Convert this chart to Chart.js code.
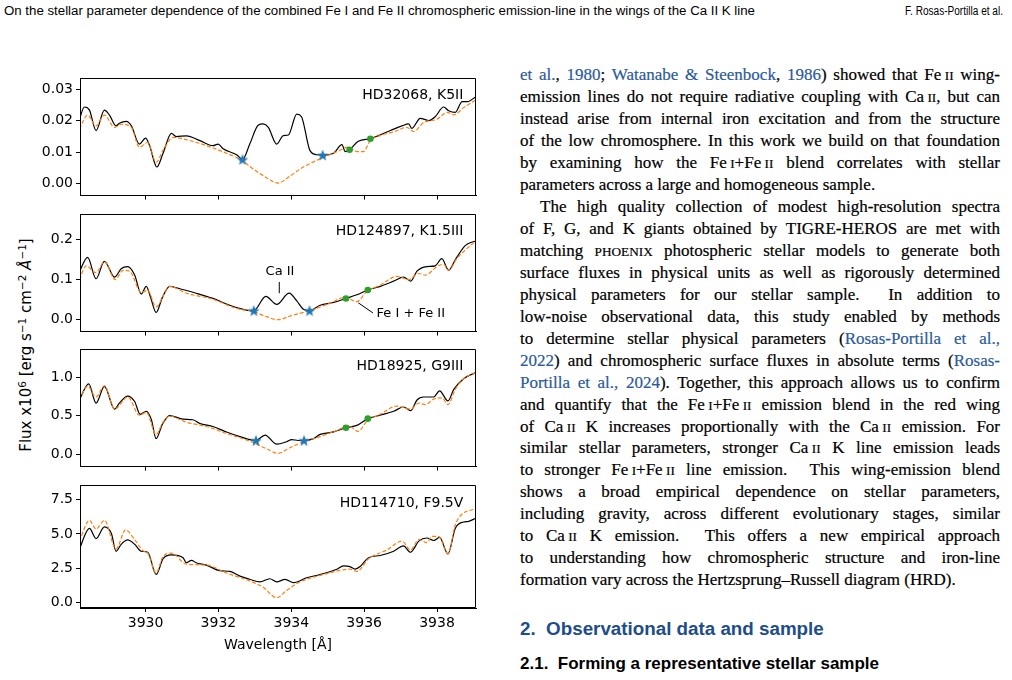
<!DOCTYPE html>
<html><head><meta charset="utf-8">
<script src="https://cdn.jsdelivr.net/npm/chart.js@4.4.1/dist/chart.umd.min.js"></script>
<style>
html,body{margin:0;padding:0;background:#fff;}
body{width:1012px;height:680px;position:relative;overflow:hidden;color:#000;}
canvas.cv{position:absolute;left:0;}
#hdr{position:absolute;left:4px;top:4px;font:12px "Liberation Sans",Arial,sans-serif;white-space:nowrap;transform-origin:0 0;}
#hdr2{position:absolute;left:905px;top:4px;font:12px "Liberation Sans",Arial,sans-serif;white-space:nowrap;transform-origin:0 0;}
#col{position:absolute;left:520px;top:64px;width:480px;font-family:"Liberation Serif",serif;font-size:17px;line-height:21.97px;-webkit-text-stroke:0.2px #000;}
#col div{white-space:nowrap;text-align:justify;text-align-last:justify;height:21.97px;}
#col div.e{text-align-last:left;}
#col div.i{text-indent:20px;}
.sc{font-size:0.78em;line-height:0;}
.lk{color:#2b5a9b;-webkit-text-stroke:0.2px #2b5a9b;}
#h2{position:absolute;left:520px;top:618px;font:bold 18.8px "Liberation Sans",Arial,sans-serif;color:#1d4d8a;white-space:nowrap;}
#h3{position:absolute;left:520px;top:654px;font:bold 17px "Liberation Sans",Arial,sans-serif;white-space:nowrap;}
#ylab{position:absolute;left:26px;top:345px;transform:translate(-50%,-50%) rotate(-90deg);font:15px "DejaVu Sans",sans-serif;white-space:nowrap;}
#ylab sup{font-size:0.7em;vertical-align:0.5em;line-height:0;}
</style>
</head>
<body>
<div id="hdr">On the stellar parameter dependence of the combined Fe I and Fe II chromospheric emission-line in the wings of the Ca II K line</div>
<div id="hdr2">F. Rosas-Portilla et al.</div>

<div id="ylab">Flux x10<sup>6</sup> [erg s<sup>−1</sup> cm<sup>−2</sup> <i>Å</i><sup>−1</sup>]</div>

<div id="col">
<div><span class="lk">et al.</span>, <span class="lk">1980</span>; <span class="lk">Watanabe &amp; Steenbock</span>, <span class="lk">1986</span>) showed that Fe&#8201;<span class="sc">II</span> wing-</div>
<div>emission lines do not require radiative coupling with Ca&#8201;<span class="sc">II</span>, but can</div>
<div>instead arise from internal iron excitation and from the structure</div>
<div>of the low chromosphere. In this work we build on that foundation</div>
<div>by examining how the Fe&#8201;<span class="sc">I</span>+Fe&#8201;<span class="sc">II</span> blend correlates with stellar</div>
<div class="e">parameters across a large and homogeneous sample.</div>
<div class="i">The high quality collection of modest high-resolution spectra</div>
<div>of F, G, and K giants obtained by TIGRE-HEROS are met with</div>
<div>matching <span class="sc">PHOENIX</span> photospheric stellar models to generate both</div>
<div>surface fluxes in physical units as well as rigorously determined</div>
<div>physical parameters for our stellar sample. &nbsp;In addition to</div>
<div>low-noise observational data, this study enabled by methods</div>
<div>to determine stellar physical parameters (<span class="lk">Rosas-Portilla et al.,</span></div>
<div><span class="lk">2022</span>) and chromospheric surface fluxes in absolute terms (<span class="lk">Rosas-</span></div>
<div><span class="lk">Portilla et al., 2024</span>). Together, this approach allows us to confirm</div>
<div>and quantify that the Fe&#8201;<span class="sc">I</span>+Fe&#8201;<span class="sc">II</span> emission blend in the red wing</div>
<div>of Ca&#8201;<span class="sc">II</span> K increases proportionally with the Ca&#8201;<span class="sc">II</span> emission. For</div>
<div>similar stellar parameters, stronger Ca&#8201;<span class="sc">II</span> K line emission leads</div>
<div>to stronger Fe&#8201;<span class="sc">I</span>+Fe&#8201;<span class="sc">II</span> line emission. &nbsp;This wing-emission blend</div>
<div>shows a broad empirical dependence on stellar parameters,</div>
<div>including gravity, across different evolutionary stages, similar</div>
<div>to Ca&#8201;<span class="sc">II</span> K emission. &nbsp;This offers a new empirical approach</div>
<div>to understanding how chromospheric structure and iron-line</div>
<div class="e">formation vary across the Hertzsprung–Russell diagram (HRD).</div>
</div>
<div id="h2">2.&nbsp; Observational data and sample</div>
<div id="h3">2.1.&nbsp; Forming a representative stellar sample</div>

<script>
// ---------------- DATA ----------------
const xRange = [3928.2, 3939.07];
const xTicks = [3930, 3932, 3934, 3936, 3938];
const xTickLabels = ['3930', '3932', '3934', '3936', '3938'];

const starNames = ['HD32068, K5II', 'HD124897, K1.5III', 'HD18925, G9III', 'HD114710, F9.5V'];

// Panel 1: HD32068
const p1YRange = [-0.0038, 0.0335];
const p1YTicks = [0, 0.01, 0.02, 0.03];
const p1YLabels = ['0.00', '0.01', '0.02', '0.03'];
const p1Obs = [[3928.18,0.0203],[3928.32,0.0244],[3928.46,0.0234],[3928.64,0.0169],[3928.87,0.0234],[3929.01,0.0218],[3929.19,0.0184],[3929.28,0.0192],[3929.47,0.0198],[3929.61,0.0184],[3929.83,0.0126],[3930.00,0.0145],[3930.11,0.0121],[3930.31,0.0053],[3930.48,0.0097],[3930.71,0.0160],[3930.84,0.0150],[3931.12,0.0152],[3931.49,0.0137],[3931.85,0.0121],[3931.99,0.0126],[3932.13,0.0111],[3932.50,0.0092],[3932.66,0.0077],[3932.86,0.0126],[3933.09,0.0186],[3933.23,0.0190],[3933.37,0.0179],[3933.60,0.0126],[3933.78,0.0153],[3933.92,0.0155],[3934.15,0.0221],[3934.28,0.0213],[3934.51,0.0106],[3934.70,0.0092],[3934.86,0.0091],[3935.16,0.0097],[3935.39,0.0124],[3935.48,0.0102],[3935.60,0.0108],[3935.84,0.0135],[3936.17,0.0143],[3936.39,0.0153],[3936.72,0.0169],[3937.04,0.0184],[3937.22,0.0190],[3937.31,0.0176],[3937.54,0.0208],[3937.77,0.0201],[3937.95,0.0213],[3938.18,0.0244],[3938.32,0.0232],[3938.50,0.0227],[3938.69,0.0261],[3938.83,0.0261],[3939.06,0.0276]];
const p1Model = [[3928.18,0.0174],[3928.41,0.0218],[3928.64,0.0184],[3928.87,0.0218],[3929.15,0.0179],[3929.33,0.0189],[3929.61,0.0179],[3929.83,0.0116],[3930.06,0.0131],[3930.29,0.0068],[3930.48,0.0106],[3930.75,0.0147],[3931.12,0.0140],[3931.67,0.0121],[3932.22,0.0097],[3932.66,0.0073],[3932.94,0.0048],[3933.32,0.0019],[3933.64,0.0002],[3933.96,0.0024],[3934.33,0.0053],[3934.79,0.0079],[3935.25,0.0102],[3935.57,0.0116],[3935.80,0.0102],[3935.98,0.0102],[3936.17,0.0137],[3936.44,0.0153],[3936.81,0.0165],[3937.17,0.0179],[3937.36,0.0166],[3937.63,0.0194],[3938.00,0.0205],[3938.28,0.0227],[3938.46,0.0219],[3938.73,0.0242],[3939.06,0.0266]];
const p1CaBounds = [[3932.66,0.0077],[3934.86,0.0091]];
const p1FeBounds = [[3935.60,0.0108],[3936.17,0.0143]];

// Panel 2: HD124897
const p2YRange = [-0.0295, 0.262];
const p2YTicks = [0, 0.1, 0.2];
const p2YLabels = ['0.0', '0.1', '0.2'];
const p2Obs = [[3928.18,0.119],[3928.41,0.155],[3928.64,0.102],[3928.87,0.145],[3929.15,0.106],[3929.33,0.127],[3929.51,0.132],[3929.70,0.111],[3929.88,0.064],[3930.02,0.083],[3930.13,0.058],[3930.29,0.018],[3930.46,0.055],[3930.66,0.083],[3930.94,0.077],[3931.39,0.066],[3931.85,0.053],[3932.31,0.036],[3932.77,0.024],[3932.97,0.0227],[3933.30,0.058],[3933.60,0.038],[3933.94,0.066],[3934.15,0.047],[3934.33,0.026],[3934.50,0.0227],[3934.79,0.036],[3935.16,0.043],[3935.50,0.053],[3935.80,0.062],[3936.10,0.074],[3936.44,0.083],[3936.81,0.096],[3937.08,0.106],[3937.28,0.096],[3937.45,0.121],[3937.72,0.132],[3937.95,0.134],[3938.13,0.152],[3938.32,0.123],[3938.50,0.149],[3938.78,0.185],[3939.06,0.196]];
const p2Model = [[3928.18,0.100],[3928.37,0.134],[3928.64,0.117],[3928.87,0.144],[3929.17,0.100],[3929.38,0.123],[3929.56,0.121],[3929.88,0.068],[3930.06,0.073],[3930.29,0.032],[3930.48,0.058],[3930.66,0.083],[3931.12,0.066],[3931.85,0.051],[3932.50,0.028],[3932.97,0.020],[3933.32,0.0076],[3933.64,0.000],[3933.96,0.009],[3934.50,0.0227],[3935.06,0.041],[3935.48,0.056],[3935.80,0.045],[3936.07,0.070],[3936.44,0.086],[3936.90,0.108],[3937.22,0.100],[3937.50,0.115],[3937.68,0.111],[3938.00,0.132],[3938.18,0.138],[3938.32,0.123],[3938.55,0.153],[3939.06,0.196]];
const p2CaBounds = [[3932.97,0.0227],[3934.50,0.0227]];
const p2FeBounds = [[3935.50,0.053],[3936.10,0.074]];
// annotation texts and leader lines (data coordinates)
const p2Notes = [
  {text: 'Ca II', at: [3933.69, 0.119], align: 'center', line: [[3933.67, 0.094], [3933.67, 0.066]]},
  {text: 'Fe I + Fe II', at: [3936.34, 0.015], align: 'left', line: [[3935.84, 0.042], [3936.24, 0.017]]}
];

// Panel 3: HD18925
const p3YRange = [-0.161, 1.361];
const p3YTicks = [0, 0.5, 1.0];
const p3YLabels = ['0.0', '0.5', '1.0'];
const p3Obs = [[3928.18,0.704],[3928.44,0.913],[3928.64,0.664],[3928.87,0.881],[3929.15,0.585],[3929.28,0.664],[3929.51,0.755],[3929.70,0.684],[3929.85,0.518],[3930.02,0.557],[3930.16,0.447],[3930.29,0.202],[3930.46,0.387],[3930.66,0.502],[3931.03,0.455],[3931.30,0.447],[3931.49,0.399],[3931.85,0.360],[3932.22,0.289],[3932.59,0.229],[3933.03,0.178],[3933.28,0.249],[3933.60,0.130],[3933.87,0.162],[3934.01,0.190],[3934.19,0.178],[3934.35,0.178],[3934.61,0.202],[3934.79,0.257],[3935.16,0.289],[3935.50,0.344],[3935.80,0.375],[3936.10,0.462],[3936.44,0.506],[3936.81,0.557],[3937.08,0.613],[3937.28,0.565],[3937.45,0.704],[3937.63,0.743],[3937.91,0.743],[3938.07,0.822],[3938.30,0.692],[3938.46,0.842],[3938.73,0.980],[3939.06,1.059]];
const p3Model = [[3928.18,0.704],[3928.41,0.881],[3928.64,0.743],[3928.87,0.889],[3929.15,0.585],[3929.51,0.743],[3929.83,0.506],[3930.02,0.545],[3930.29,0.257],[3930.48,0.415],[3930.66,0.494],[3931.12,0.415],[3931.67,0.360],[3932.22,0.269],[3932.86,0.170],[3933.32,0.071],[3933.64,0.012],[3933.96,0.083],[3934.33,0.162],[3934.79,0.229],[3935.25,0.308],[3935.57,0.368],[3935.84,0.296],[3936.07,0.427],[3936.44,0.518],[3936.90,0.625],[3937.27,0.585],[3937.50,0.664],[3937.68,0.644],[3937.91,0.715],[3938.14,0.731],[3938.30,0.644],[3938.50,0.842],[3938.73,0.980],[3939.06,1.059]];
const p3CaBounds = [[3933.03,0.178],[3934.35,0.178]];
const p3FeBounds = [[3935.50,0.344],[3936.10,0.462]];

// Panel 4: HD114710
const p4YRange = [-0.42, 8.55];
const p4YTicks = [0, 2.5, 5.0, 7.5];
const p4YLabels = ['0.0', '2.5', '5.0', '7.5'];
const p4Obs = [[3928.18,3.89],[3928.46,5.40],[3928.64,4.66],[3928.87,5.52],[3929.06,5.05],[3929.19,3.73],[3929.33,4.24],[3929.51,4.56],[3929.70,4.24],[3929.88,3.73],[3930.06,3.66],[3930.29,2.03],[3930.48,3.19],[3930.71,3.47],[3931.03,3.26],[3931.12,2.89],[3931.26,3.07],[3931.39,2.89],[3931.67,2.72],[3932.04,2.31],[3932.31,2.26],[3932.59,1.91],[3932.86,1.68],[3933.14,1.49],[3933.41,1.72],[3933.60,1.49],[3933.83,1.68],[3934.06,1.44],[3934.42,1.79],[3934.79,2.03],[3935.25,2.42],[3935.43,2.66],[3935.61,2.61],[3935.75,2.42],[3935.89,2.61],[3936.12,3.26],[3936.44,3.42],[3936.81,3.73],[3937.08,4.12],[3937.27,3.66],[3937.50,4.47],[3937.72,4.70],[3937.91,4.52],[3938.07,4.75],[3938.30,3.54],[3938.50,5.40],[3938.73,5.87],[3938.87,5.92],[3939.06,6.15]];
const p4Model = [[3928.18,4.47],[3928.46,5.99],[3928.64,5.36],[3928.87,5.99],[3929.19,3.89],[3929.45,5.29],[3929.70,4.59],[3929.93,3.77],[3930.06,3.59],[3930.29,2.14],[3930.48,3.35],[3930.71,3.59],[3931.12,2.79],[3931.67,2.72],[3932.22,2.14],[3932.86,1.56],[3933.23,1.09],[3933.60,0.33],[3933.87,0.86],[3934.24,1.49],[3934.79,1.96],[3935.34,2.33],[3935.61,2.42],[3935.80,2.26],[3936.12,3.19],[3936.62,3.82],[3937.04,4.47],[3937.27,3.82],[3937.50,4.59],[3937.72,4.36],[3937.86,4.82],[3938.04,4.82],[3938.30,3.54],[3938.50,5.64],[3938.64,6.33],[3939.06,6.85]];

// ---------------- STYLE / LAYOUT ----------------
const TICK_FONT = {family: 'DejaVu Sans', size: 14};
const LABEL_FONT = '14px "DejaVu Sans"';
const NOTE_FONT = '13px "DejaVu Sans"';
const PLOT_LEFT = 80, PLOT_RIGHT = 476, PLOT_H = 128, PAD = 6;
const panelTops = [73, 209, 344, 480];

function starImage(size, color) {
  const c = document.createElement('canvas');
  c.width = size; c.height = size;
  const g = c.getContext('2d');
  g.fillStyle = color;
  g.beginPath();
  const R = size / 2, r = R * 0.42;
  for (let i = 0; i < 10; i++) {
    const a = -Math.PI / 2 + i * Math.PI / 5;
    const rr = (i % 2) ? r : R;
    g.lineTo(R + rr * Math.cos(a), R + 0.6 + rr * Math.sin(a));
  }
  g.closePath();
  g.fill();
  return c;
}
const STAR = starImage(12, '#1f77b4');

const toXY = arr => arr.map(p => ({x: p[0], y: p[1]}));

const framePlugin = {
  id: 'frame',
  afterDraw(chart, args, opts) {
    const {ctx, chartArea: a} = chart;
    ctx.save();
    ctx.strokeStyle = '#000';
    ctx.lineWidth = 1;
    const l = Math.round(a.left) + 0.5, t = Math.round(a.top) + 0.5;
    const r = Math.round(a.right) - 0.5, b = Math.round(a.bottom) - 0.5;
    ctx.beginPath();
    ctx.moveTo(l, b); ctx.lineTo(l, t); ctx.lineTo(r, t); ctx.lineTo(r, b); ctx.lineTo(l, b);
    ctx.stroke();
    // panel label (axes fraction position)
    ctx.fillStyle = '#000';
    ctx.font = LABEL_FONT;
    ctx.textAlign = 'right';
    ctx.textBaseline = 'middle';
    ctx.fillText(opts.label, a.left + (a.right - a.left) * 0.968, a.top + (a.bottom - a.top) * 0.146);
    // annotations in data coordinates
    const xs = chart.scales.x, ys = chart.scales.y;
    ctx.font = NOTE_FONT;
    (opts.notes || []).forEach(n => {
      ctx.textAlign = n.align;
      ctx.fillText(n.text, xs.getPixelForValue(n.at[0]), ys.getPixelForValue(n.at[1]));
      ctx.beginPath();
      ctx.moveTo(xs.getPixelForValue(n.line[0][0]), ys.getPixelForValue(n.line[0][1]));
      ctx.lineTo(xs.getPixelForValue(n.line[1][0]), ys.getPixelForValue(n.line[1][1]));
      ctx.lineWidth = 1;
      ctx.stroke();
    });
    ctx.restore();
  }
};

function makePanel(i, obs, model, caB, feB, yRange, yTicks, yLabels, notes) {
  const bottom = (i === 3);
  const xAxisH = bottom ? 46 : PAD;
  const cv = document.createElement('canvas');
  cv.className = 'cv';
  const W = PLOT_RIGHT + 9, H = PAD + PLOT_H + xAxisH;
  cv.style.top = (panelTops[i] - PAD) + 'px';
  cv.style.width = W + 'px'; cv.style.height = H + 'px';
  cv.width = W; cv.height = H;
  document.body.appendChild(cv);

  const datasets = [
    {data: toXY(obs), borderColor: '#000', borderWidth: 1.2, pointRadius: 0, fill: false,
     cubicInterpolationMode: 'monotone', order: 3},
    {data: toXY(model), borderColor: '#ff7f0e', borderWidth: 1.2, borderDash: [4, 2], pointRadius: 0, fill: false,
     cubicInterpolationMode: 'monotone', order: 2}
  ];
  if (caB) datasets.push({data: toXY(caB), showLine: false, pointStyle: STAR, pointRadius: 6, order: 1});
  if (feB) datasets.push({data: toXY(feB), showLine: false, pointStyle: 'circle', pointRadius: 3.3,
    backgroundColor: '#2ca02c', borderColor: '#2ca02c', borderWidth: 0, order: 0});

  new Chart(cv, {
    type: 'line',
    data: {datasets},
    options: {
      responsive: false, animation: false, devicePixelRatio: 1,
      layout: {padding: {left: 0, right: W - PLOT_RIGHT, top: PAD, bottom: 0}},
      plugins: {legend: {display: false}, tooltip: {enabled: false},
        frame: {label: starNames[i], notes: notes || []}},
      scales: {
        x: {type: 'linear', min: xRange[0], max: xRange[1],
          afterBuildTicks: s => { s.ticks = xTicks.map(v => ({value: v})); },
          afterFit: s => { s.height = xAxisH; },
          grid: {display: true, drawOnChartArea: false, drawTicks: true, tickLength: 4, color: '#000', lineWidth: 1},
          border: {display: true, color: '#000', width: 1},
          ticks: {display: bottom, autoSkip: false, maxRotation: 0, padding: 3, color: '#000', font: TICK_FONT,
            callback: (v, idx) => xTickLabels[idx]},
          title: {display: bottom, text: 'Wavelength [Å]', color: '#000', font: TICK_FONT, padding: {top: 0, bottom: 0}}
        },
        y: {type: 'linear', min: yRange[0], max: yRange[1],
          afterBuildTicks: s => { s.ticks = yTicks.map(v => ({value: v})); },
          afterFit: s => { s.width = PLOT_LEFT; },
          grid: {display: true, drawOnChartArea: false, drawTicks: true, tickLength: 4, color: '#000', lineWidth: 1},
          border: {display: true, color: '#000', width: 1},
          ticks: {autoSkip: false, padding: 3, color: '#000', font: TICK_FONT,
            callback: (v, idx) => yLabels[idx]}
        }
      }
    },
    plugins: [framePlugin]
  });
}

makePanel(0, p1Obs, p1Model, p1CaBounds, p1FeBounds, p1YRange, p1YTicks, p1YLabels);
makePanel(1, p2Obs, p2Model, p2CaBounds, p2FeBounds, p2YRange, p2YTicks, p2YLabels, p2Notes);
makePanel(2, p3Obs, p3Model, p3CaBounds, p3FeBounds, p3YRange, p3YTicks, p3YLabels);
makePanel(3, p4Obs, p4Model, null, null, p4YRange, p4YTicks, p4YLabels);

// fit running header widths
function fitWidth(id, w) {
  const el = document.getElementById(id);
  const nat = el.getBoundingClientRect().width;
  el.style.transform = 'scaleX(' + (w / nat) + ')';
}
fitWidth('hdr', 751);
fitWidth('hdr2', 98);

// shrink any text line that is naturally wider than the column
const COL_W = 480;
document.querySelectorAll('#col > div').forEach(d => {
  const saved = d.style.textAlignLast;
  d.style.textAlignLast = 'left';
  const rg = document.createRange();
  rg.selectNodeContents(d);
  const natural = rg.getBoundingClientRect().right - d.getBoundingClientRect().left;
  if (natural > COL_W) {
    d.style.letterSpacing = ((COL_W - natural) / d.textContent.length) + 'px';
  }
  d.style.textAlignLast = saved;
});
</script>
</body></html>
